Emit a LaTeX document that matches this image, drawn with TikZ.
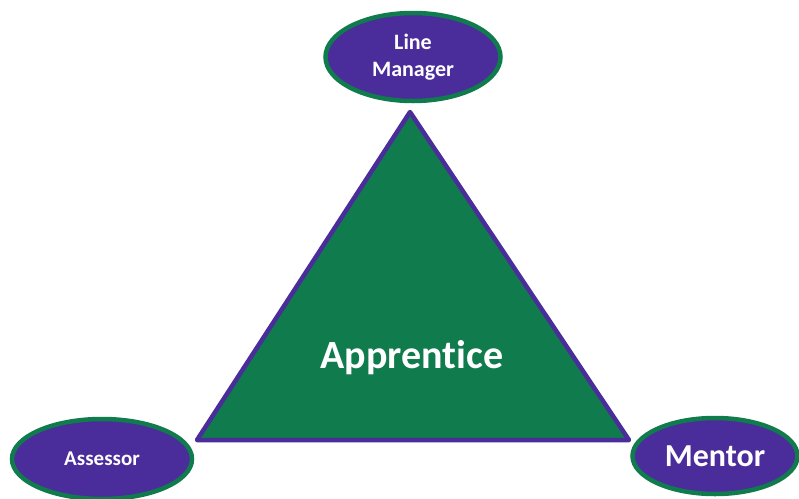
\documentclass[tikz,border=0pt]{standalone}
\usepackage{fontspec}
\setmainfont[Ligatures=NoCommon]{Carlito}
\usetikzlibrary{shapes.geometric}
\definecolor{roleblue}{RGB}{74,44,154}
\definecolor{rolegreen}{RGB}{16,124,77}
\begin{document}
\begin{tikzpicture}[x=1pt,y=-1pt]
    		\newcommand{\edge}{4.5pt} % width of the outlines
    		
    		% set the style of the role ovals
    		\tikzset{
    			role/.style={
    				ellipse,
    				fill=roleblue,
    				draw=rolegreen,
    				line width=\edge,
    				text=white,
    				font=\bfseries,
    				align=center,
    				inner sep=0pt
    				}
    		}
    		
    		\useasboundingbox (0,0) rectangle (799,498);
    	
    		% triangle
    		\coordinate (apex) at (410,112);
    		\coordinate (baseL) at (197,440);
    		\coordinate (baseR) at (629,440);
    		\filldraw[fill=rolegreen, draw=roleblue, line width=\edge, line join=round] (apex) -- (baseL) -- (baseR) -- cycle;
    		\node[text=white, font=\bfseries\fontsize{40}{44}\selectfont] (apprentice) at (412,358) {Apprentice};
    		
    		% roles
		    \node[role, minimum width=175pt, minimum height=88pt, font=\bfseries\fontsize{22}{27}\selectfont] (manager) at (413,57) {Line\\Manager};
		    \node[role, minimum width=180pt, minimum height=80pt, font=\bfseries\fontsize{21}{24}\selectfont] (assessor) at (102,459) {Assessor};
		    \node[role, minimum width=165pt, minimum height=76pt, font=\bfseries\fontsize{32}{34}\selectfont] (mentor) at (715,456) {Mentor};
		\end{tikzpicture}
\end{document}
